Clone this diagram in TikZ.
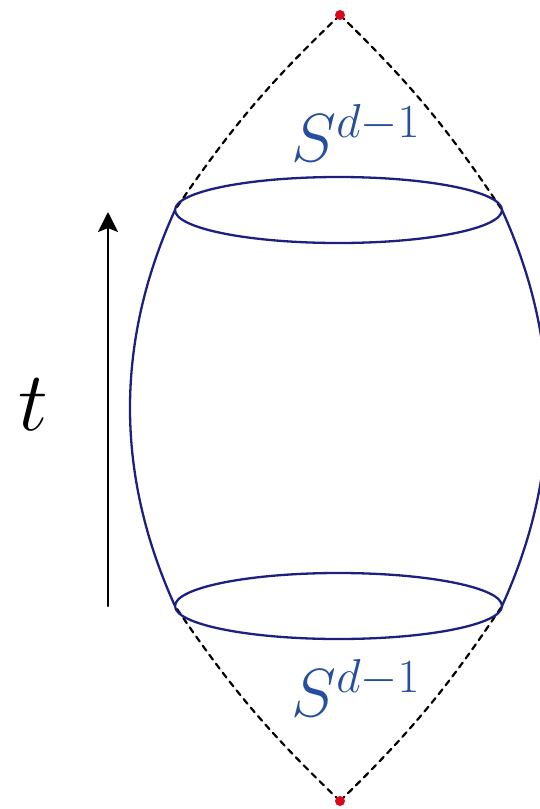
\RequirePackage{fix-cm}
\documentclass[tikz,border=0pt]{standalone}
\usepackage{amsmath,amssymb}
\usetikzlibrary{arrows.meta,calc,positioning}
\definecolor{sphereblue}{RGB}{30,32,128}
\definecolor{labelblue}{RGB}{38,78,158}
\definecolor{tipred}{RGB}{215,10,25}
\tikzset{
 rim/.style={sphereblue,line width=1.15pt},
 cone/.style={black,line width=1.1pt,dash pattern=on 3pt off 2.6pt},
 tip/.style={fill=tipred},
 slabel/.style={labelblue,font=\fontsize{34}{40}\selectfont}
}

\begin{document}
\begin{tikzpicture}[x=0.5pt,y=-0.5pt,line cap=round,line join=round]
 \useasboundingbox (0,0) rectangle (540,809);
 \clip (0,0) rectangle (540,809);
 % Punkty i krawedzie.
 \coordinate (top) at (340,15);
 \coordinate (bot) at (340,801);
 \coordinate (a0) at (175,210);
 \coordinate (a1) at (502,210);
 \coordinate (b0) at (175,606);
 \coordinate (b1) at (502,606);
 % Stozki swietlne.
 \draw[cone] (top) to[bend right=6] (a0);
 \draw[cone] (top) to[bend left=6] (a1);
 \draw[cone] (bot) to[bend left=6] (b0);
 \draw[cone] (bot) to[bend right=6] (b1);
 % Boki.
 \draw[rim] (a0) .. controls (115,342) and (115,474) .. (b0);
 \draw[rim] (a1) .. controls (562,342) and (562,474) .. (b1);
 % Sfery.
 \draw[rim] (338.5,210) ellipse[x radius=163.5,y radius=33];
 \draw[rim] (338.5,606) ellipse[x radius=163.5,y radius=33];
 \fill[tip] (top) circle(5);
 \fill[tip] (bot) circle(5);
 \node[slabel] (supper) at (356,133) {$S^{d-1}$};
 \node[slabel] (slower) at (356,688) {$S^{d-1}$};
 % Czas.
 \coordinate (t0) at (108,606);
 \coordinate (t1) at (108,212);
 \draw[line width=1.15pt,-{Stealth[length=10pt,width=10pt,inset=2pt]}] (t0)--(t1);
 \node[font=\fontsize{42}{48}\selectfont] (tlab) at (33,405) {$t$};
\end{tikzpicture}
\end{document}
